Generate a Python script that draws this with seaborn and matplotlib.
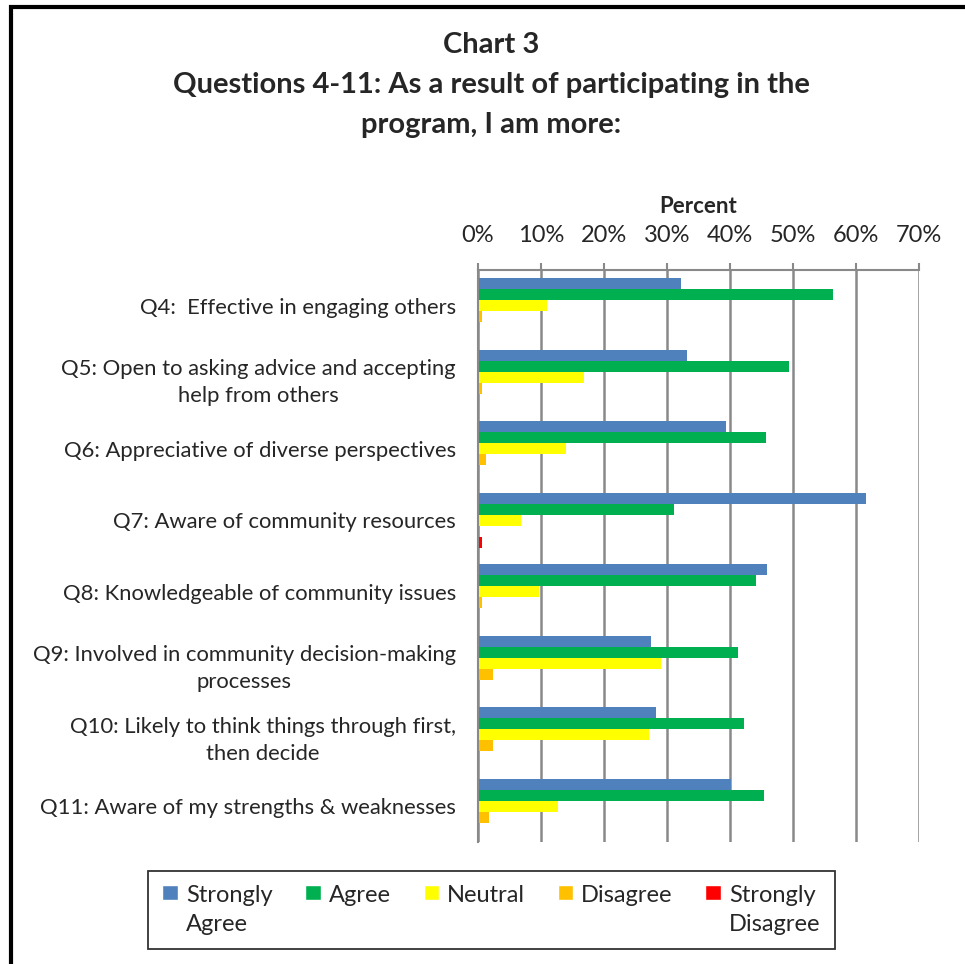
import matplotlib
matplotlib.use("Agg")
import numpy as np
import pandas as pd
import matplotlib.pyplot as plt
from matplotlib.patches import Rectangle, Patch
from matplotlib.legend_handler import HandlerPatch
from matplotlib.ticker import PercentFormatter, FixedLocator
import seaborn as sns

# survey data (percent)
questions = [
    "Q4:  Effective in engaging others",
    "Q5: Open to asking advice and accepting\nhelp from others",
    "Q6: Appreciative of diverse perspectives",
    "Q7: Aware of community resources",
    "Q8: Knowledgeable of community issues",
    "Q9: Involved in community decision-making\nprocesses",
    "Q10: Likely to think things through first,\nthen decide",
    "Q11: Aware of my strengths & weaknesses",
]
levels = ["Strongly Agree", "Agree", "Neutral", "Disagree", "Strongly Disagree"]
legend_labels = ["Strongly\nAgree", "Agree\n ", "Neutral\n ", "Disagree\n ", "Strongly\nDisagree"]
strongly_agree = [32.2, 33.2, 39.3, 61.6, 45.8, 27.4, 28.3, 40.2]
agree = [56.3, 49.4, 45.7, 31.1, 44.1, 41.3, 42.2, 45.4]
neutral = [11.0, 16.9, 14.0, 6.9, 9.7, 29.1, 27.2, 12.7]
disagree = [0.7, 0.7, 1.2, 0.0, 0.7, 2.4, 2.4, 1.8]
strongly_disagree = [0.0, 0.0, 0.0, 0.7, 0.0, 0.0, 0.0, 0.0]
colors = ["#4F81BD", "#00B050", "#FFFF00", "#FFC000", "#FF0000"]

series = [strongly_agree, agree, neutral, disagree, strongly_disagree]
rows = []
for lev, vals in zip(levels, series):
    for q, v in zip(questions, vals):
        rows.append({"question": q, "level": lev, "value": v})
df = pd.DataFrame(rows)

sns.set_style("white")
plt.rcParams["font.family"] = ["Lato", "DejaVu Sans"]
grid_col = "#898989"
fs = 16

fig = plt.figure(figsize=(9.65, 9.64), dpi=100)
ax = fig.add_axes([478 / 965, 122 / 964, 441 / 965, 572 / 964])

sns.barplot(data=df, y="question", x="value", hue="level", hue_order=levels,
            order=questions, palette=colors, saturation=1, orient="h", width=0.77,
            linewidth=0, errorbar=None, legend=False, ax=ax)

ax.set_xlim(0, 70)
ax.set_ylim(7.5, -0.5)
ax.set_xticks(np.arange(0, 71, 10))
ax.xaxis.set_major_formatter(PercentFormatter(decimals=0))
ax.xaxis.tick_top()
ax.xaxis.set_label_position("top")
ax.set_xlabel("Percent", fontsize=fs, fontweight="bold", labelpad=9)
ax.set_ylabel("")
ax.tick_params(axis="x", direction="out", length=5, width=1.5, color=grid_col,
               labelsize=fs + 1, pad=12)
ax.tick_params(axis="y", which="major", length=0, labelsize=15.8, pad=16)
ax.yaxis.set_minor_locator(FixedLocator(np.arange(-0.5, 8, 1)))
ax.tick_params(axis="y", which="minor", direction="out", length=9, width=1.5, color=grid_col)
for t in ax.get_yticklabels():
    t.set_multialignment("center")
    t.set_linespacing(1.45)

ax.xaxis.grid(True, color=grid_col, linewidth=1.8)
ax.set_axisbelow(True)
for side in ["right", "bottom"]:
    ax.spines[side].set_visible(False)
for side in ["top", "left"]:
    ax.spines[side].set_color(grid_col)
    ax.spines[side].set_linewidth(1.5)

# title
title_lines = ["Chart 3", "Questions 4-11: As a result of participating in the", "program, I am more:"]
for i, line in enumerate(title_lines):
    fig.text(491 / 965, 1 - (45 + 40 * i) / 964, line, ha="center", va="center",
             fontsize=21, fontweight="bold")


def shifted_square(legend, orig_handle, xdescent, ydescent, width, height, fontsize):
    return Rectangle((-xdescent, -ydescent + 0.75 * fontsize), width, height)


handles = [Patch(facecolor=c) for c in colors]
leg = fig.legend(handles, legend_labels, loc="center",
                 bbox_to_anchor=(491.5 / 965, 1 - 910 / 964),
                 ncol=5, frameon=True, fancybox=False,
                 edgecolor="black", fontsize=fs + 1, handlelength=0.65, handleheight=0.65,
                 handletextpad=0.35, columnspacing=1.38, borderpad=0.6, borderaxespad=0,
                 handler_map={Patch: HandlerPatch(patch_func=shifted_square)})
leg.get_frame().set_linewidth(1.3)
for t in leg.get_texts():
    t.set_linespacing(1.45)

# outer border (cut off at right and bottom in the original)
fig.add_artist(Rectangle((10.5 / 965, -0.1), 2, 0.1 + (964 - 7) / 964,
                         transform=fig.transFigure, fill=False, ec="black", lw=3))

fig.savefig("out.png", dpi=100)
